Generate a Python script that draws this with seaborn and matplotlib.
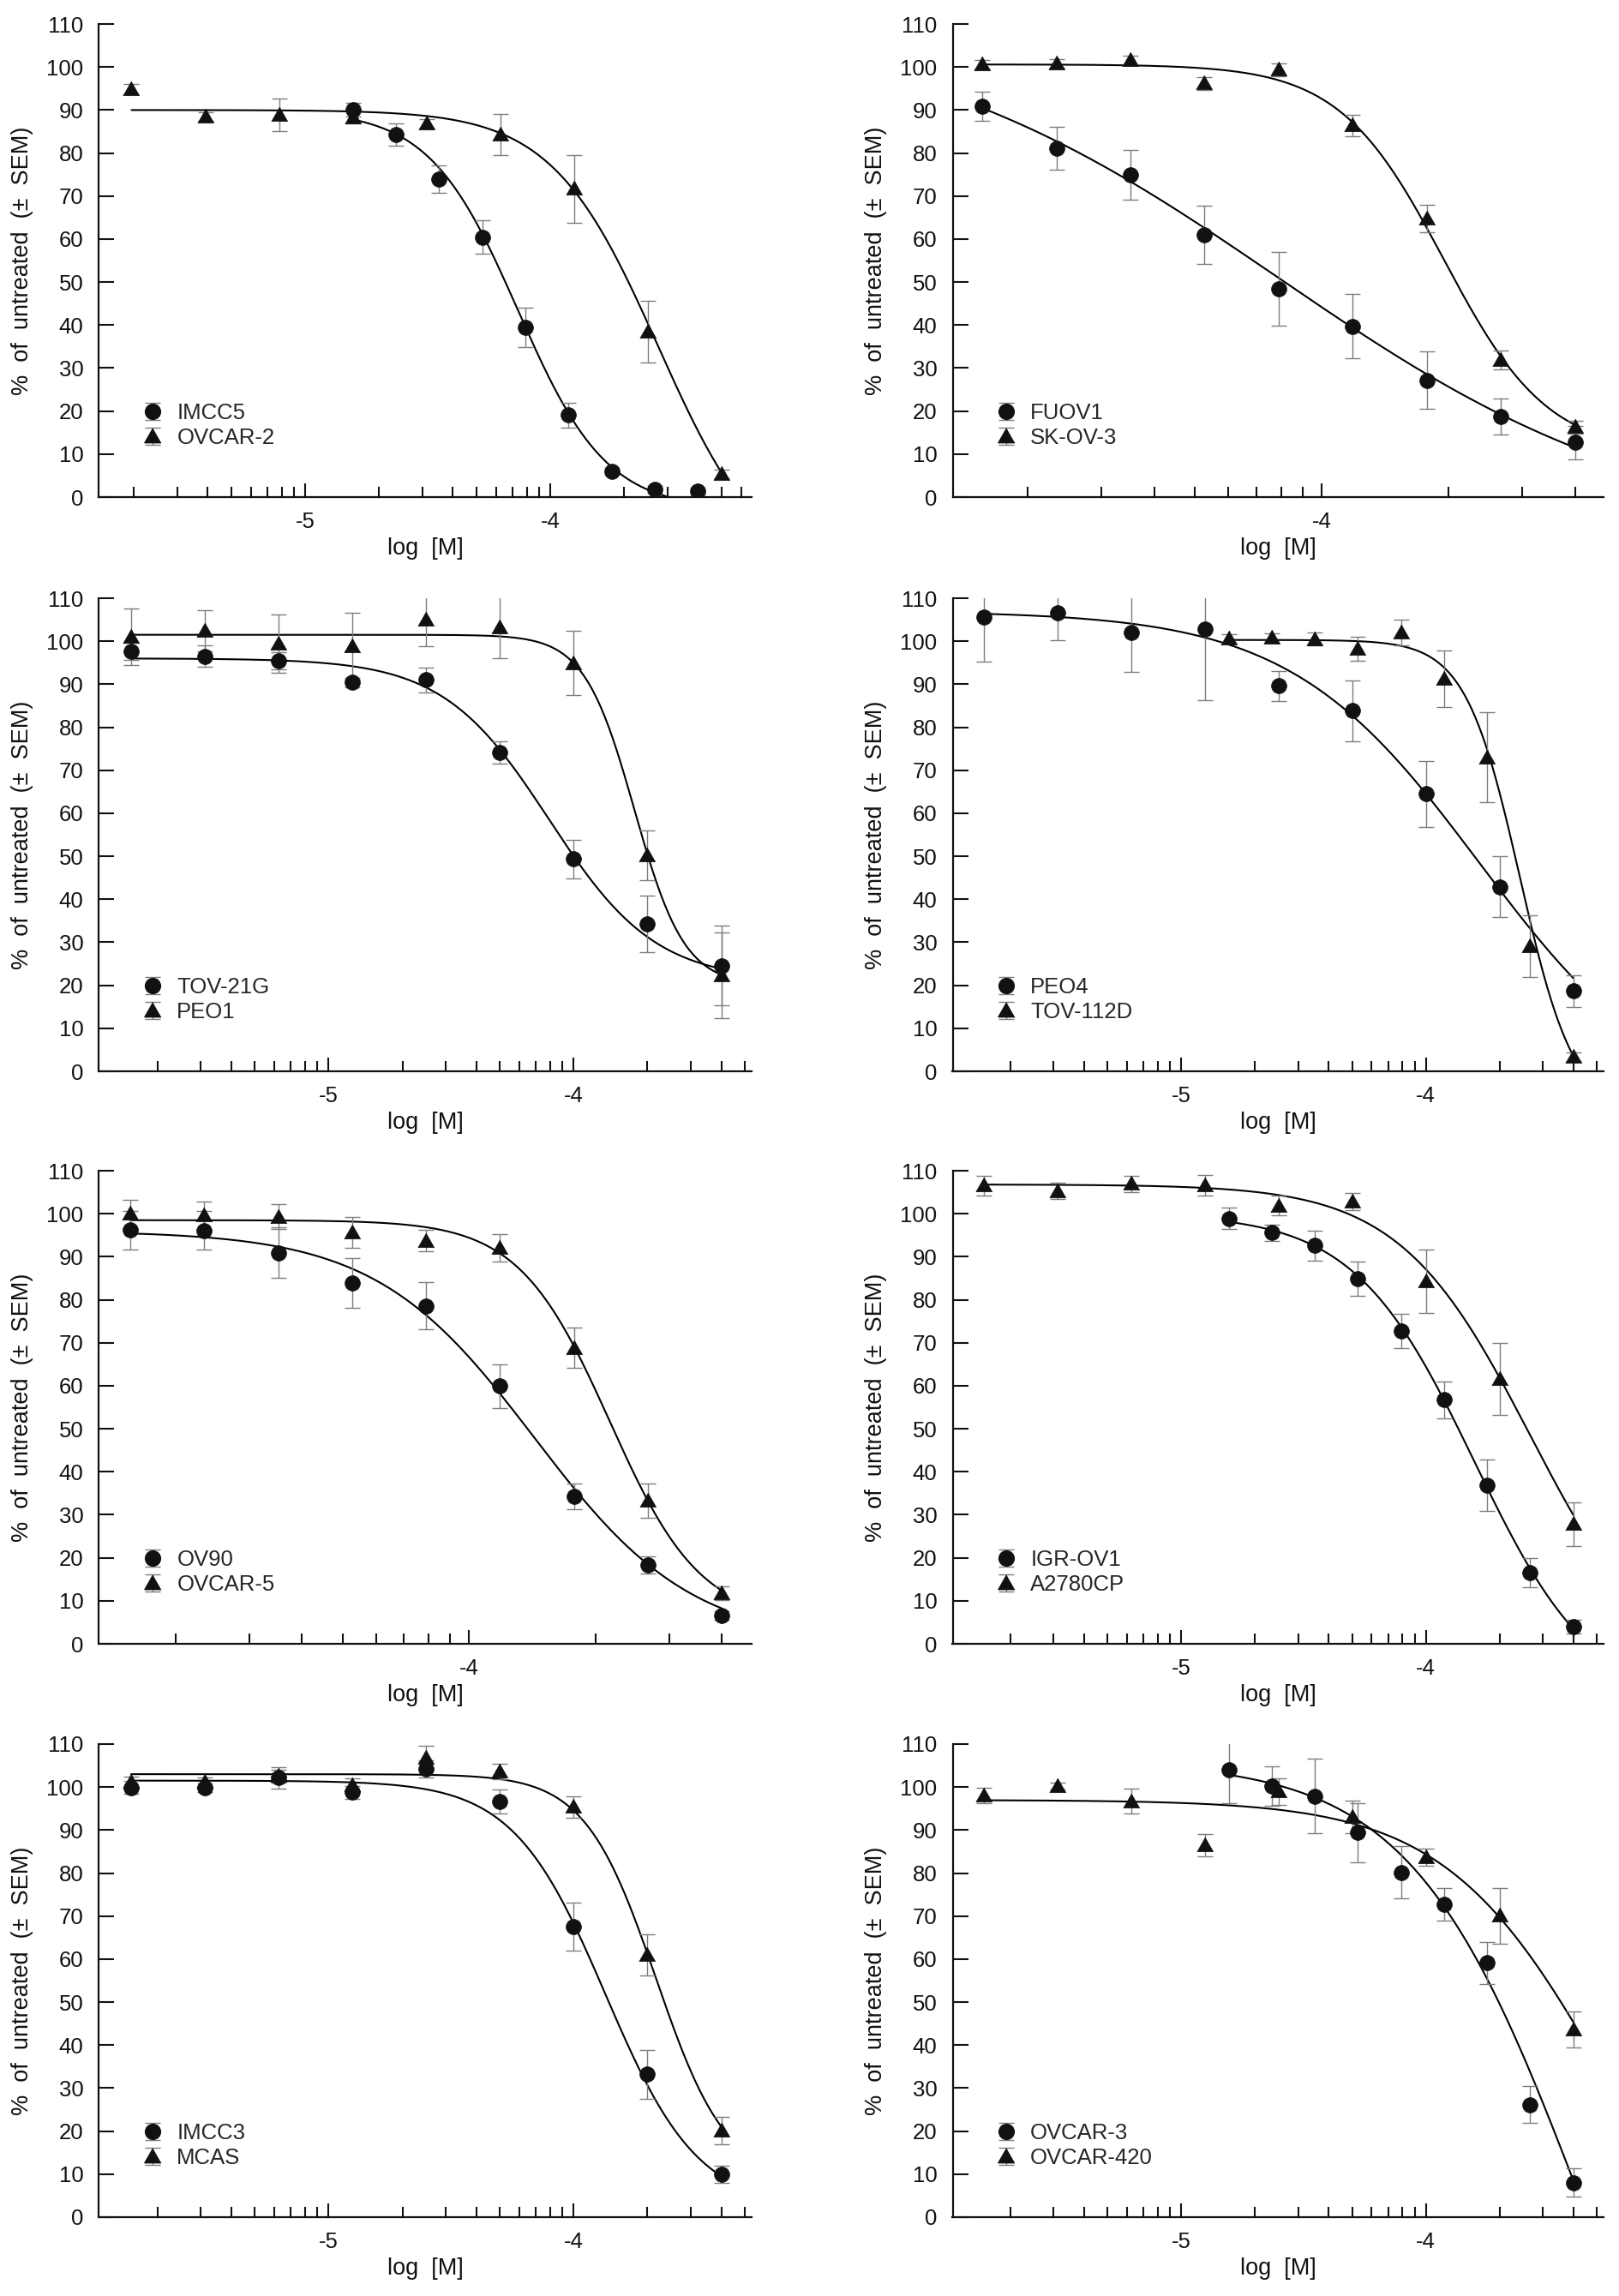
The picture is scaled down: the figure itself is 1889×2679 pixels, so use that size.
import numpy as np
import pandas as pd
import matplotlib
matplotlib.use("Agg")
import matplotlib.pyplot as plt
import matplotlib.ticker as mticker
from matplotlib.container import ErrorbarContainer
from matplotlib.legend_handler import HandlerErrorbar
import seaborn as sns

sns.set_style("ticks")
plt.rcParams["font.family"] = ["Liberation Sans", "DejaVu Sans"]

# ---------------- data (concentrations in M) ----------------
conc_2fold_400 = [1.5625e-6, 3.125e-6, 6.25e-6, 1.25e-5, 2.5e-5, 5e-5, 1e-4, 2e-4, 4e-4]
conc_15fold_400 = [1.561e-5, 2.341e-5, 3.512e-5, 5.268e-5, 7.901e-5, 1.1852e-4, 1.7778e-4, 2.6667e-4, 4e-4]
conc_2fold_500 = [1.953e-6, 3.906e-6, 7.8125e-6, 1.5625e-5, 3.125e-5, 6.25e-5, 1.25e-4, 2.5e-4, 5e-4]

panel_names = [("IMCC5", "OVCAR-2"), ("FUOV1", "SK-OV-3"), ("TOV-21G", "PEO1"), ("PEO4", "TOV-112D"),
               ("OV90", "OVCAR-5"), ("IGR-OV1", "A2780CP"), ("IMCC3", "MCAS"), ("OVCAR-3", "OVCAR-420")]

panel_xlim = [(1.439e-6, 6.622e-4), (1.327e-5, 4.688e-4), (1.156e-6, 5.321e-4), (1.161e-6, 5.346e-4),
              (1.315e-5, 4.710e-4), (1.161e-6, 5.346e-4), (1.156e-6, 5.321e-4), (1.161e-6, 5.346e-4)]

# circle series
circle_x = [conc_15fold_400, conc_15fold_400, conc_2fold_400, conc_2fold_400,
            conc_15fold_400, conc_15fold_400, conc_2fold_400, conc_15fold_400]
circle_y = [
    [90.0, 84.3, 74.0, 60.4, 39.5, 19.1, 5.9, 1.7, 1.4],
    [90.8, 81.1, 75.0, 61.0, 48.4, 39.7, 27.2, 18.7, 12.7],
    [97.6, 96.5, 95.4, 90.4, 91.0, 74.2, 49.4, 34.2, 24.6],
    [105.7, 106.7, 102.1, 102.8, 89.6, 83.8, 64.5, 42.9, 18.7],
    [96.2, 96.1, 90.9, 83.9, 78.6, 59.9, 34.2, 18.4, 6.5],
    [98.9, 95.6, 92.6, 84.9, 72.8, 56.7, 36.9, 16.5, 4.0],
    [99.9, 99.9, 102.2, 98.8, 104.3, 96.6, 67.6, 33.2, 9.9],
    [104.1, 100.3, 97.9, 89.4, 80.2, 72.7, 59.1, 26.2, 8.0],
]
circle_sem = [
    [1.6, 2.5, 3.2, 3.9, 4.6, 2.9, 0.8, 0.8, 0.8],
    [3.4, 4.9, 5.8, 6.7, 8.6, 7.5, 6.7, 4.2, 3.9],
    [2.0, 2.5, 2.0, 1.1, 2.9, 2.6, 4.5, 6.6, 9.2],
    [10.5, 6.5, 9.3, 16.5, 3.5, 7.1, 7.7, 7.1, 3.7],
    [4.5, 4.5, 5.9, 5.8, 5.4, 5.1, 3.0, 2.0, 1.0],
    [2.5, 1.9, 3.5, 3.9, 4.0, 4.3, 6.0, 3.4, 1.6],
    [1.5, 1.0, 2.5, 1.5, 2.0, 2.8, 5.6, 5.7, 2.0],
    [7.9, 4.6, 8.7, 6.9, 6.0, 3.8, 4.8, 4.3, 3.3],
]
# triangle series
tri_x = [conc_2fold_500, conc_15fold_400, conc_2fold_400, conc_15fold_400,
         conc_15fold_400, conc_2fold_400, conc_2fold_400, conc_2fold_400]
tri_y = [
    [94.8, 88.5, 88.9, 88.3, 86.8, 84.3, 71.7, 38.5, 5.4],
    [100.6, 100.9, 101.7, 96.2, 99.4, 86.4, 64.7, 31.8, 16.3],
    [101.1, 102.5, 99.5, 98.8, 105.1, 103.2, 94.9, 50.2, 22.3],
    [100.6, 100.9, 100.5, 98.3, 102.1, 91.3, 73.0, 29.1, 3.3],
    [100.0, 99.6, 99.3, 95.7, 93.7, 92.1, 68.8, 33.3, 11.8],
    [106.6, 105.3, 107.0, 106.6, 101.9, 102.8, 84.3, 61.6, 27.8],
    [101.3, 101.3, 102.6, 100.5, 106.9, 103.6, 95.4, 61.0, 20.1],
    [98.1, 100.3, 96.7, 86.5, 99.0, 93.0, 83.7, 70.1, 43.7],
]
tri_sem = [
    [1.2, 1.0, 3.8, 1.5, 1.0, 4.8, 7.9, 7.2, 1.0],
    [1.0, 1.0, 1.0, 1.5, 1.5, 2.5, 3.2, 2.2, 1.5],
    [6.6, 4.8, 6.8, 7.8, 6.2, 7.2, 7.5, 5.7, 10.0],
    [1.0, 1.0, 1.5, 2.8, 3.0, 6.6, 10.5, 7.1, 1.0],
    [3.3, 3.2, 2.9, 3.6, 2.5, 3.2, 4.7, 4.0, 1.6],
    [2.3, 1.9, 1.9, 2.4, 2.3, 2.0, 7.4, 8.4, 5.1],
    [1.2, 1.0, 1.5, 1.5, 2.8, 1.8, 2.5, 4.8, 3.2],
    [1.8, 0.8, 2.9, 2.6, 3.1, 3.8, 1.9, 6.5, 4.2],
]

# fitted 4-parameter logistic curves (top, bottom, logIC50, hill)
circle_fit_top = [90, 112, 96, 107, 96, 100, 101.5, 106]
circle_fit_bottom = [-3, -10, 21, -10, 0, -15, 2, -100]
circle_fit_logic50 = [-4.133, -4.103, -4.10, -3.782, -3.845, -3.803, -3.87, -3.36]
circle_fit_hill = [2.4, 0.95, 2.0, 1.12, 2.3, 1.77, 2.3, 1.25]

tri_fit_top = [90, 100.6, 101.5, 100.3, 98.5, 106.8, 103, 97]
tri_fit_bottom = [-20, 10, 20, -10, 5, -10, 8, -35]
tri_fit_logic50 = [-3.56, -3.71, -3.752, -3.616, -3.665, -3.573, -3.664, -3.25]
tri_fit_hill = [2.0, 3.5, 4.25, 3.9, 4.0, 1.62, 3.0, 1.3]

# ---------------- layout ----------------
W, H = 1890, 2679
fig = plt.figure(figsize=(W / 100, H / 100), dpi=100)

col_left = [115.5, 1111.5]
col_width = [761.5, 760.0]
row_y0 = [580, 1250, 1918, 2587]
ax_h = 552

TICK_FS = 18.5
LABEL_FS = 19.5
ERR_COLOR = "#7d7d7d"
tri_marker = [(0, 1.0), (-1, -0.75), (1, -0.75)]


def logistic(x, top, bottom, logic50, hill):
    return bottom + (top - bottom) / (1 + 10 ** ((np.log10(x) - logic50) * hill))


def draw_series(ax, xs, ys, sem, marker, s, top, bottom, logic50, hill):
    xs = np.asarray(xs)
    xx = np.logspace(np.log10(xs.min()), np.log10(xs.max()), 300)
    curve = pd.DataFrame({"x": xx, "y": logistic(xx, top, bottom, logic50, hill)})
    sns.lineplot(data=curve, x="x", y="y", color="black", lw=1.5, ax=ax,
                 sort=False, estimator=None, legend=False, zorder=2)
    ax.errorbar(xs, ys, yerr=sem, fmt="none", ecolor=ERR_COLOR, elinewidth=1.0,
                capsize=6.5, capthick=1.0, zorder=3)
    pts = pd.DataFrame({"x": xs, "y": ys})
    sns.scatterplot(data=pts, x="x", y="y", marker=marker, s=s, color="#111111",
                    edgecolor="#111111", linewidth=0.5, ax=ax, legend=False, zorder=4)


for i in range(8):
    r, c = divmod(i, 2)
    left = col_left[c] / W
    bottom = 1 - row_y0[r] / H
    ax = fig.add_axes([left, bottom, col_width[c] / W, ax_h / H])
    ax.set_xscale("log")

    draw_series(ax, circle_x[i], circle_y[i], circle_sem[i], "o", 165,
                circle_fit_top[i], circle_fit_bottom[i], circle_fit_logic50[i], circle_fit_hill[i])
    draw_series(ax, tri_x[i], tri_y[i], tri_sem[i], tri_marker, 190,
                tri_fit_top[i], tri_fit_bottom[i], tri_fit_logic50[i], tri_fit_hill[i])

    ax.set_xlim(*panel_xlim[i])
    ax.set_ylim(0, 110)
    ax.set_yticks(np.arange(0, 111, 10))
    ax.xaxis.set_major_locator(mticker.LogLocator(base=10, numticks=20))
    ax.xaxis.set_minor_locator(mticker.LogLocator(base=10, subs=np.arange(2, 10), numticks=20))
    ax.xaxis.set_major_formatter(mticker.FuncFormatter(lambda v, p: f"{int(round(np.log10(v)))}"))
    ax.xaxis.set_minor_formatter(mticker.NullFormatter())

    for sp in ["top", "right"]:
        ax.spines[sp].set_visible(False)
    for sp in ["left", "bottom"]:
        ax.spines[sp].set_linewidth(1.6)
        ax.spines[sp].set_color("#111111")

    ax.tick_params(axis="y", direction="in", length=12.7, width=1.5, pad=13,
                   labelsize=TICK_FS, colors="#111111")
    ax.tick_params(axis="x", which="major", direction="in", length=11.7, width=1.5, pad=12,
                   labelsize=TICK_FS, colors="#111111")
    ax.tick_params(axis="x", which="minor", direction="in", length=8.9, width=1.5, colors="#111111")

    ax.set_xlabel("log  [M]", fontsize=LABEL_FS, color="#111111")
    ax.set_ylabel("%  of  untreated  (±  SEM)", fontsize=LABEL_FS, color="#111111")
    ax.xaxis.set_label_coords(0.5, -0.085)
    ax.yaxis.set_label_coords(-0.1005, 0.5)

    # legend proxies (marker with SEM bar, Prism style)
    h1 = ax.errorbar([np.nan], [np.nan], yerr=[1.0], fmt="o", ms=12.8, mfc="#111111", mec="#111111",
                     ecolor=ERR_COLOR, elinewidth=1.0, capsize=6.5, capthick=1.0)
    h2 = ax.errorbar([np.nan], [np.nan], yerr=[1.0], fmt="none", ecolor=ERR_COLOR,
                     elinewidth=1.0, capsize=6.5, capthick=1.0)
    h2 = ax.errorbar([np.nan], [np.nan], yerr=[1.0], marker=tri_marker, ls="none", ms=13.8,
                     mfc="#111111", mec="#111111", ecolor=ERR_COLOR, elinewidth=1.0,
                     capsize=6.5, capthick=1.0)
    ax.legend(handles=[h1, h2], labels=list(panel_names[i]), loc="center left",
              bbox_to_anchor=(0.0652, 0.1514), frameon=False, borderpad=0, borderaxespad=0,
              handlelength=1.0, handletextpad=0.6, labelspacing=0.2, numpoints=1,
              fontsize=TICK_FS, handler_map={ErrorbarContainer: HandlerErrorbar(yerr_size=0.4)})

fig.savefig("out.png", dpi=100)
